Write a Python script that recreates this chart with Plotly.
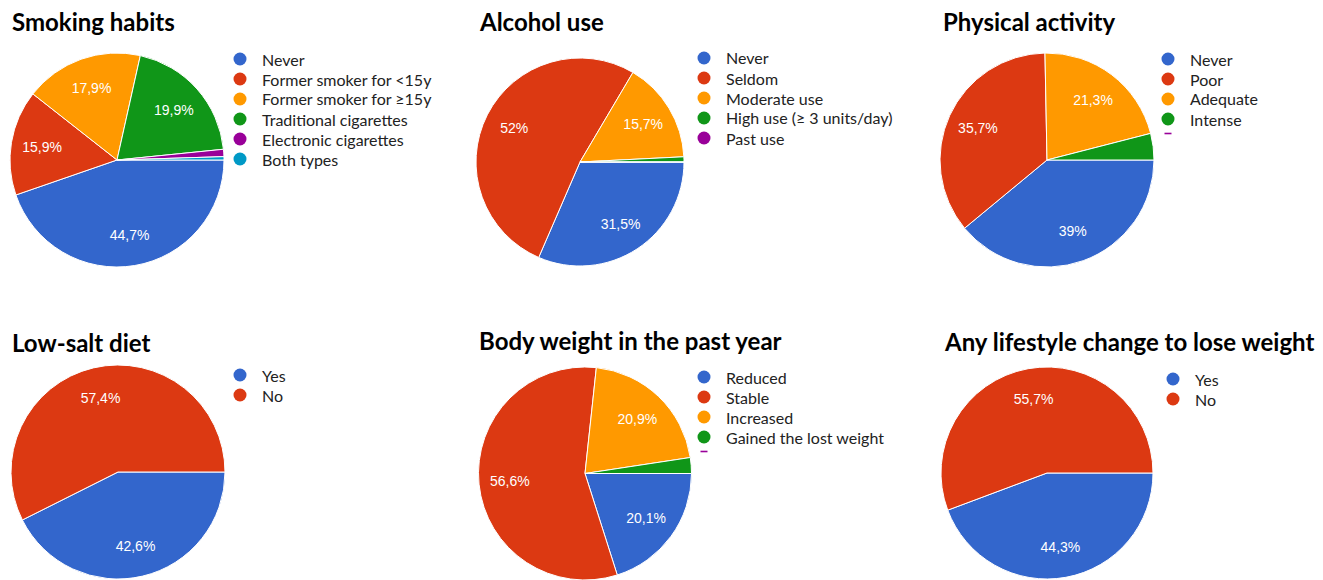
import plotly.graph_objects as go

W, H = 1323, 580

# ---------------- data ----------------
smoking_labels = ["Never", "Former smoker for <15y", "Former smoker for ≥15y",
                  "Traditional cigarettes", "Electronic cigarettes", "Both types"]
smoking_values = [44.7, 15.9, 17.9, 19.9, 1.1, 0.5]

alcohol_labels = ["Never", "Seldom", "Moderate use", "High use (≥ 3 units/day)", "Past use"]
alcohol_values = [31.5, 52.0, 15.7, 0.8, 0.0]

activity_labels = ["Never", "Poor", "Adequate", "Intense"]
activity_values = [39.0, 35.7, 21.3, 4.0]

salt_labels = ["Yes", "No"]
salt_values = [42.6, 57.4]

weight_labels = ["Reduced", "Stable", "Increased", "Gained the lost weight"]
weight_values = [20.1, 56.6, 20.9, 2.4]

change_labels = ["Yes", "No"]
change_values = [44.3, 55.7]

titles = ["Smoking habits", "Alcohol use", "Physical activity",
          "Low-salt diet", "Body weight in the past year", "Any lifestyle change to lose weight"]

COLORS = ["#3366CC", "#DC3912", "#FF9900", "#109618", "#990099", "#0099C6"]

# ---------------- layout (pixel positions) ----------------
panels = [
    dict(labels=smoking_labels, values=smoking_values, cx=117, cy=160, r=107, tx=10, ty=22, lx=240, ly=59, clip=False),
    dict(labels=alcohol_labels, values=alcohol_values, cx=580, cy=162, r=104, tx=477, ty=22, lx=704, ly=58, clip=False),
    dict(labels=activity_labels, values=activity_values, cx=1047, cy=160, r=107, tx=941, ty=22, lx=1168, ly=59, clip=True),
    dict(labels=salt_labels, values=salt_values, cx=118, cy=472, r=107, tx=10, ty=342, lx=240, ly=375, clip=False),
    dict(labels=weight_labels, values=weight_values, cx=585, cy=474, r=107, tx=477, ty=340, lx=704, ly=377, clip=True),
    dict(labels=change_labels, values=change_values, cx=1047, cy=473, r=106, tx=942, ty=341, lx=1173, ly=379, clip=False),
]
LEG_STEP = 20


def fmt(v):
    return ("%g" % v).replace(".", ",") + "%" if v >= 5 else ""


fig = go.Figure()
annotations = []
shapes = []

for i, (p, title) in enumerate(zip(panels, titles)):
    x0 = max(0, (p["cx"] - p["r"]) / W)
    x1 = min(1, (p["cx"] + p["r"]) / W)
    y0 = max(0, (H - (p["cy"] + p["r"])) / H)
    y1 = min(1, (H - (p["cy"] - p["r"])) / H)
    n = len(p["labels"])
    dom = dict(x=[x0, x1], y=[y0, y1])
    common = dict(labels=p["labels"], values=p["values"], sort=False,
                  direction="clockwise", rotation=90, domain=dom, showlegend=False)
    # coloured pie
    fig.add_trace(go.Pie(
        **common, textinfo="none",
        marker=dict(colors=COLORS[:n], line=dict(color="white", width=1)),
        hoverinfo="label+percent",
    ))
    # transparent ring carrying the percentage labels (places them at ~0.7 r)
    fig.add_trace(go.Pie(
        **common, hole=0.42,
        text=[fmt(v) for v in p["values"]], textinfo="text",
        textposition="inside", insidetextorientation="horizontal",
        textfont=dict(family="Liberation Sans, Arial", size=14, color="white"),
        marker=dict(colors=["rgba(0,0,0,0)"] * n, line=dict(width=0)),
        hoverinfo="skip",
    ))
    # legend
    for k, (lab, col) in enumerate(zip(p["labels"], COLORS[:n])):
        yy = (H - (p["ly"] + k * LEG_STEP)) / H
        shapes.append(dict(
            type="circle", xref="paper", yref="paper",
            xsizemode="pixel", ysizemode="pixel",
            xanchor=p["lx"] / W, yanchor=yy,
            x0=-6.5, x1=6.5, y0=-6.5, y1=6.5,
            fillcolor=col, line=dict(width=0),
        ))
        annotations.append(dict(
            text=lab, x=(p["lx"] + 20) / W, y=yy, xref="paper", yref="paper",
            xanchor="left", yanchor="middle", showarrow=False,
            font=dict(family="Lato", size=16, color="#222222"),
        ))
    if p["clip"]:
        # top sliver of the next (paged-out) legend marker
        yy = (H - (p["ly"] + n * LEG_STEP - 5.5)) / H
        shapes.append(dict(
            type="rect", xref="paper", yref="paper",
            xsizemode="pixel", ysizemode="pixel",
            xanchor=p["lx"] / W, yanchor=yy,
            x0=-3.5, x1=3.5, y0=-0.8, y1=0.8,
            fillcolor=COLORS[n], line=dict(width=0),
        ))
    annotations.append(dict(
        text="<b>%s</b>" % title, x=p["tx"] / W, y=(H - p["ty"]) / H,
        xref="paper", yref="paper", xanchor="left", yanchor="middle",
        showarrow=False, font=dict(family="Lato", size=24, color="black"),
    ))

fig.update_layout(
    width=W, height=H,
    margin=dict(l=0, r=0, t=0, b=0),
    paper_bgcolor="white", plot_bgcolor="white",
    annotations=annotations, shapes=shapes,
)

fig.write_html("out.html", config={"displayModeBar": False},
               post_script="document.body.style.margin='0';")
